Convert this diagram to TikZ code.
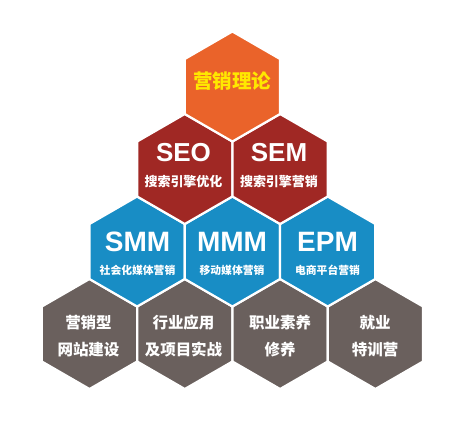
\documentclass[tikz,border=0pt]{standalone}
\usepackage{fontspec}
\setmainfont{Liberation Sans}
\newfontfamily\cjk{Noto Sans CJK SC}
\definecolor{hexorange}{RGB}{234,99,42}
\definecolor{hexred}{RGB}{160,40,36}
\definecolor{hexblue}{RGB}{24,141,197}
\definecolor{hexgray}{RGB}{106,96,93}
\definecolor{hexyellow}{RGB}{255,232,0}
\begin{document}
\begin{tikzpicture}[x=1pt,y=-1pt,
  hexedge/.style={draw=white,line width=2.2pt,line join=miter},
  big/.style={font=\fontsize{26}{26}\selectfont\bfseries,text=white,inner sep=0pt},
  bigblue/.style={font=\fontsize{28}{28}\selectfont\bfseries,text=white,inner sep=0pt},
  sub/.style={font=\cjk\fontsize{13}{13}\selectfont\bfseries,text=white,inner sep=0pt},
  subblue/.style={font=\cjk\fontsize{10.8}{11}\selectfont\bfseries,text=white,inner sep=0pt},
  graytxt/.style={font=\cjk\fontsize{15.5}{27}\selectfont\bfseries,text=white,inner sep=0pt,align=center},
  toptxt/.style={font=\cjk\fontsize{19.5}{19.5}\selectfont\bfseries,text=hexyellow,inner sep=0pt}]
\useasboundingbox (0,0) rectangle (467,431);
\def\R{55}
\newcommand{\hexcell}[3]{%
  \fill[#3] (#1,#2) +(90:\R) -- +(30:\R) -- +(-30:\R) -- +(-90:\R) -- +(-150:\R) -- +(150:\R) -- cycle;
  \draw[hexedge] (#1,#2) +(90:\R) -- +(30:\R) -- +(-30:\R) -- +(-90:\R) -- +(-150:\R) -- +(150:\R) -- cycle;}
% bottom row
\hexcell{89.5}{334}{hexgray}
\hexcell{184.8}{334}{hexgray}
\hexcell{280.1}{334}{hexgray}
\hexcell{375.4}{334}{hexgray}
% blue row
\hexcell{137.1}{251.5}{hexblue}
\hexcell{232.4}{251.5}{hexblue}
\hexcell{327.7}{251.5}{hexblue}
% red row
\hexcell{184.8}{169}{hexred}
\hexcell{280.1}{169}{hexred}
% top
\hexcell{232.4}{86.5}{hexorange}
% texts
\node[toptxt] (top) at (232.4,81.5) {营销理论};
\node[big] (seo) at (183.5,152.5) {SEO};
\node[sub] (seos) at (183.5,182) {搜索引擎优化};
\node[big] (sem) at (279,152.5) {SEM};
\node[sub] (sems) at (279,182) {搜索引擎营销};
\node[bigblue] (smm) at (137.5,242) {SMM};
\node[subblue] (smms) at (137.5,270) {社会化媒体营销};
\node[bigblue] (mmm) at (232,242) {MMM};
\node[subblue] (mmms) at (232,270) {移动媒体营销};
\node[bigblue] (epm) at (327.5,242) {EPM};
\node[subblue] (epms) at (327.5,270) {电商平台营销};
\node[graytxt] (g1) at (88.5,336.5) {营销型\\网站建设};
\node[graytxt] (g2) at (183.5,336.5) {行业应用\\及项目实战};
\node[graytxt] (g3) at (280,336.5) {职业素养\\修养};
\node[graytxt] (g4) at (375,336.5) {就业\\特训营};
\end{tikzpicture}
\end{document}
